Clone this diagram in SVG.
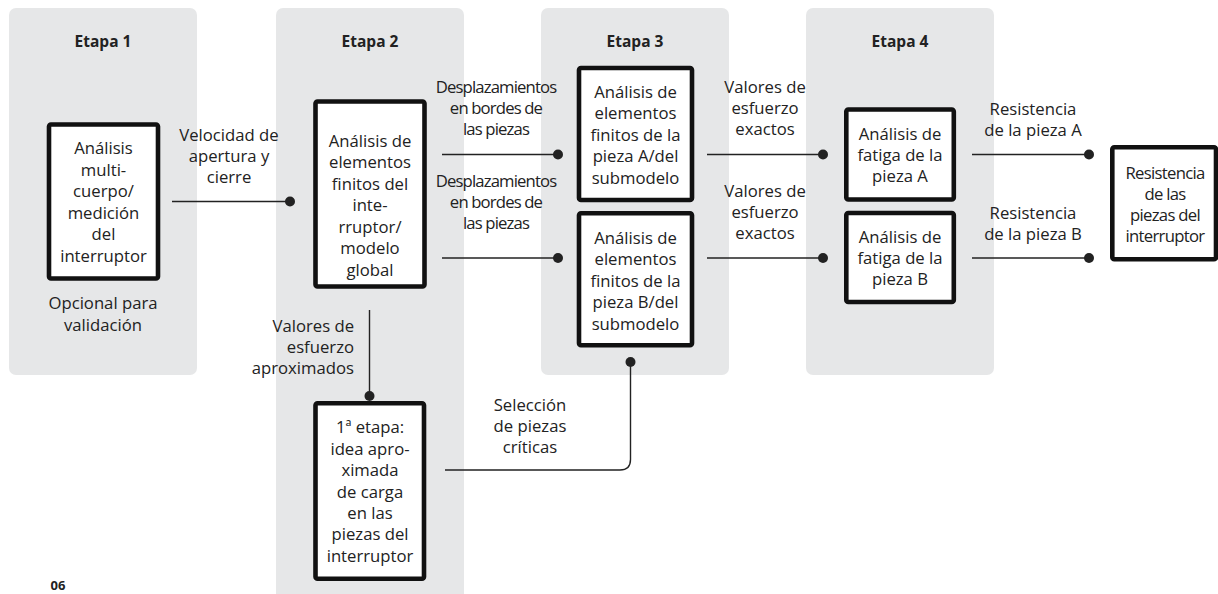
<svg xmlns="http://www.w3.org/2000/svg" width="1218" height="594" viewBox="0 0 1218 594">
<style>
.panel{fill:#e6e7e8}
.box{fill:#fff;stroke:#111;stroke-width:4.6}
.t{font-family:"Open Sans","Noto Sans","Liberation Sans",sans-serif;font-size:16.7px;fill:#222;text-anchor:middle}
.h{font-family:"Open Sans","Noto Sans","Liberation Sans",sans-serif;font-size:15.5px;font-weight:700;fill:#222;text-anchor:middle}
.r{text-anchor:end}
.c{letter-spacing:-0.85px}
.c2{letter-spacing:-0.7px}
.ln{fill:none;stroke:#222;stroke-width:1.4}
.dot{fill:#222}
</style>
<rect width="1218" height="594" fill="#fff"/>
<g id="panels">
<rect class="panel" x="9" y="8" width="188" height="367" rx="7"/>
<rect class="panel" x="276" y="8" width="188" height="594" rx="7"/>
<rect class="panel" x="541" y="8" width="188" height="367" rx="7"/>
<rect class="panel" x="806" y="8" width="188" height="367" rx="7"/>
<text class="h" x="103" y="47">Etapa 1</text>
<text class="h" x="370" y="47">Etapa 2</text>
<text class="h" x="635" y="47">Etapa 3</text>
<text class="h" x="900" y="47">Etapa 4</text>
</g>
<g id="connectors">
<line class="ln" x1="172" y1="201.5" x2="290" y2="201.5"/>
<circle class="dot" cx="290" cy="201.5" r="5"/>
<line class="ln" x1="442" y1="154.5" x2="558" y2="154.5"/>
<circle class="dot" cx="558" cy="154.5" r="5"/>
<line class="ln" x1="442" y1="258" x2="558" y2="258"/>
<circle class="dot" cx="558" cy="258" r="5"/>
<line class="ln" x1="707" y1="154.5" x2="823" y2="154.5"/>
<circle class="dot" cx="823" cy="154.5" r="5"/>
<line class="ln" x1="707" y1="258" x2="823" y2="258"/>
<circle class="dot" cx="823" cy="258" r="5"/>
<line class="ln" x1="972" y1="154.5" x2="1089" y2="154.5"/>
<circle class="dot" cx="1089" cy="154.5" r="5"/>
<line class="ln" x1="972" y1="258" x2="1089" y2="258"/>
<circle class="dot" cx="1089" cy="258" r="5"/>
<line class="ln" x1="369.5" y1="310" x2="369.5" y2="396"/>
<circle class="dot" cx="369.5" cy="396" r="5"/>
<path class="ln" d="M445 470 H620 Q630.5 470 630.5 459.5 V362"/>
<circle class="dot" cx="630.5" cy="362" r="5"/>
</g>
<g id="labels">
<text class="t" x="229" y="141">Velocidad de</text>
<text class="t" x="229" y="162">apertura y</text>
<text class="t" x="229" y="183">cierre</text>
<text class="t c" x="496" y="92.5">Desplazamientos</text>
<text class="t c" x="496" y="113.5">en bordes de</text>
<text class="t c" x="496" y="134.5">las piezas</text>
<text class="t c" x="496" y="186.5">Desplazamientos</text>
<text class="t c" x="496" y="207.5">en bordes de</text>
<text class="t c" x="496" y="228.5">las piezas</text>
<text class="t" x="765" y="93">Valores de</text>
<text class="t" x="765" y="114">esfuerzo</text>
<text class="t" x="765" y="135">exactos</text>
<text class="t" x="765" y="197">Valores de</text>
<text class="t" x="765" y="218">esfuerzo</text>
<text class="t" x="765" y="239">exactos</text>
<text class="t" x="1033" y="114.5">Resistencia</text>
<text class="t" x="1033" y="135.5">de la pieza A</text>
<text class="t" x="1033" y="218.5">Resistencia</text>
<text class="t" x="1033" y="239.5">de la pieza B</text>
<text class="t r" x="354" y="331.5">Valores de</text>
<text class="t r" x="354" y="352.5">esfuerzo</text>
<text class="t r" x="354" y="373.5">aproximados</text>
<text class="t" x="530" y="411">Selección</text>
<text class="t" x="530" y="432">de piezas</text>
<text class="t" x="530" y="453">críticas</text>
<text class="t" x="103" y="309">Opcional para</text>
<text class="t" x="103" y="330.5">validación</text>
<text class="h" x="58" y="590" style="font-size:13px">06</text>
</g>
<g id="node-multicuerpo">
<rect class="box" x="49" y="124.5" width="109" height="154" rx="2"/>
<text class="t" x="103.5" y="154">Análisis</text>
<text class="t" x="103.5" y="175.6">multi-</text>
<text class="t" x="103.5" y="197.2">cuerpo/</text>
<text class="t" x="103.5" y="218.8">medición</text>
<text class="t" x="103.5" y="240.4">del</text>
<text class="t" x="103.5" y="262">interruptor</text>
</g>
<g id="node-global">
<rect class="box" x="315.5" y="101.5" width="109" height="185" rx="2"/>
<text class="t" x="370" y="146.5">Análisis de</text>
<text class="t" x="370" y="168">elementos</text>
<text class="t" x="370" y="189.5">finitos del</text>
<text class="t" x="370" y="211">inte-</text>
<text class="t" x="370" y="232.5">rruptor/</text>
<text class="t" x="370" y="254">modelo</text>
<text class="t" x="370" y="275.5">global</text>
</g>
<g id="node-submodeloA">
<rect class="box" x="579" y="68" width="113" height="132" rx="2"/>
<text class="t" x="635.5" y="97.5">Análisis de</text>
<text class="t" x="635.5" y="119">elementos</text>
<text class="t" x="635.5" y="140.5">finitos de la</text>
<text class="t" x="635.5" y="162">pieza A/del</text>
<text class="t" x="635.5" y="183.5">submodelo</text>
</g>
<g id="node-submodeloB">
<rect class="box" x="579" y="213.3" width="113" height="132" rx="2"/>
<text class="t" x="635.5" y="243.5">Análisis de</text>
<text class="t" x="635.5" y="265">elementos</text>
<text class="t" x="635.5" y="286.5">finitos de la</text>
<text class="t" x="635.5" y="308">pieza B/del</text>
<text class="t" x="635.5" y="329.5">submodelo</text>
</g>
<g id="node-fatigaA">
<rect class="box" x="846.3" y="109.5" width="107.5" height="90" rx="2"/>
<text class="t" x="900" y="139.5">Análisis de</text>
<text class="t" x="900" y="160.8">fatiga de la</text>
<text class="t" x="900" y="182">pieza A</text>
</g>
<g id="node-fatigaB">
<rect class="box" x="846.3" y="213" width="107.5" height="89" rx="2"/>
<text class="t" x="900" y="242.5">Análisis de</text>
<text class="t" x="900" y="263.8">fatiga de la</text>
<text class="t" x="900" y="285">pieza B</text>
</g>
<g id="node-primera-etapa">
<rect class="box" x="315.5" y="403.3" width="108.5" height="175.5" rx="2"/>
<text class="t" x="370" y="433.3">1ª etapa:</text>
<text class="t" x="370" y="454.7">idea apro-</text>
<text class="t" x="370" y="476.1">ximada</text>
<text class="t" x="370" y="497.5">de carga</text>
<text class="t" x="370" y="518.9">en las</text>
<text class="t" x="370" y="540.3">piezas del</text>
<text class="t" x="370" y="561.7">interruptor</text>
</g>
<g id="node-resistencia">
<rect class="box" x="1112.3" y="147.3" width="103.7" height="112" rx="2"/>
<text class="t c2" x="1165" y="178.5">Resistencia</text>
<text class="t c2" x="1165" y="199.5">de las</text>
<text class="t c2" x="1165" y="220.5">piezas del</text>
<text class="t c2" x="1165" y="242">interruptor</text>
</g>
</svg>
